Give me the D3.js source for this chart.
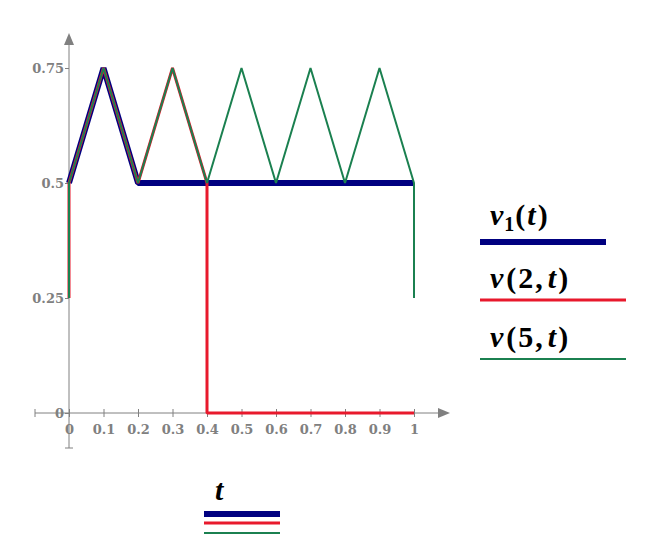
<!DOCTYPE html>
<html><head><meta charset="utf-8">
<script src="https://cdn.jsdelivr.net/npm/d3@7"></script>
<style>body{margin:0;background:#fff}</style>
</head><body>
<script>
const xTicks = [0,0.1,0.2,0.3,0.4,0.5,0.6,0.7,0.8,0.9,1];
const yTicks = [0,0.25,0.5,0.75];
const v1T = [0,0.1,0.2,1];
const v1V = [0.5,0.75,0.5,0.5];
const v2T = [0,0,0.1,0.2,0.3,0.4,0.4,1];
const v2V = [0.25,0.5,0.75,0.5,0.75,0.5,0,0];
const v5T = [0,0,0.1,0.2,0.3,0.4,0.5,0.6,0.7,0.8,0.9,1,1];
const v5V = [0.25,0.5,0.75,0.5,0.75,0.5,0.75,0.5,0.75,0.5,0.75,0.5,0.25];
const seriesNames = ["v1","v2","v5"];
const colors = ["#000080","#e8192c","#1b8050"];
const widths = [6,3,2];

const W=657,H=553;
const svg=d3.select("body").append("svg").attr("width",W).attr("height",H);
const x=d3.scaleLinear().domain([0,1]).range([69,414]);
const y=d3.scaleLinear().domain([0,0.75]).range([413,68]);
const grey="#808080";

// axes
const g=svg.append("g");
g.append("line").attr("x1",35).attr("x2",440).attr("y1",y(0)).attr("y2",y(0)).attr("stroke",grey).attr("stroke-width",1);
g.append("line").attr("x1",35).attr("x2",35).attr("y1",y(0)-4).attr("y2",y(0)+4).attr("stroke",grey);
g.append("path").attr("d",`M438,${y(0)-5}L450,${y(0)}L438,${y(0)+5}Z`).attr("fill",grey);
g.append("line").attr("x1",x(0)).attr("x2",x(0)).attr("y1",448).attr("y2",42).attr("stroke",grey);
g.append("line").attr("x1",x(0)-4).attr("x2",x(0)+4).attr("y1",448).attr("y2",448).attr("stroke",grey);
g.append("path").attr("d",`M${x(0)-5},45L${x(0)},33L${x(0)+5},45Z`).attr("fill",grey);

const tickFont="'DejaVu Serif', serif";
const xa=svg.append("g").attr("transform",`translate(0,${y(0)})`)
 .call(d3.axisBottom(x).tickValues(xTicks).tickFormat(d=>d3.format("")(d)).tickSize(0));
xa.select(".domain").remove();
xa.selectAll(".tick").append("line").attr("y1",-4).attr("y2",4).attr("stroke",grey);
xa.selectAll("text").attr("dy",0).attr("y",21).attr("fill",grey)
 .style("font-family",tickFont).style("font-size","13px").style("font-weight","bold");

const ya=svg.append("g").attr("transform",`translate(${x(0)},0)`)
 .call(d3.axisLeft(y).tickValues(yTicks).tickFormat(d=>d3.format("")(d)).tickSize(0));
ya.select(".domain").remove();
ya.selectAll(".tick").append("line").attr("x1",-4).attr("x2",0).attr("stroke",grey);
ya.selectAll("text").attr("x",-5).attr("fill",grey)
 .style("font-family",tickFont).style("font-size","13px").style("font-weight","bold");

// series
const data=[[v1T,v1V],[v2T,v2V],[v5T,v5V]];
const line=d3.line().x(d=>x(d[0])).y(d=>y(d[1]));
data.forEach(([T,V],i)=>{
  svg.append("path").datum(T.map((t,j)=>[t,V[j]])).attr("d",line)
   .attr("fill","none").attr("stroke",colors[i]).attr("stroke-width",widths[i])
   .attr("stroke-linejoin","bevel");
});

// legend right
const mathFont="'Liberation Serif', 'DejaVu Serif', serif";
function mathLabel(gx,gy,parts){
  const t=svg.append("text").attr("x",gx).attr("y",gy).style("font-family",mathFont)
    .style("font-size","30px").style("font-weight","bold").attr("fill","#000");
  parts.forEach(p=>{
    const s=t.append("tspan").text(p.t);
    if(p.i) s.style("font-style","italic");
    if(p.sub) s.attr("dy",6).style("font-size","20px");
    if(p.up) s.attr("dy",-6);
    if(p.dx) s.attr("dx",p.dx);
  });
}
mathLabel(490,225,[{t:"v",i:1},{t:"1",sub:1,dx:1},{t:"(",up:1,dx:1},{t:"t",i:1,dx:2},{t:")",dx:2}]);
mathLabel(490,288,[{t:"v",i:1},{t:"(",dx:3},{t:"2",dx:2},{t:",",dx:2},{t:"t",i:1,dx:5},{t:")",dx:2}]);
mathLabel(490,347,[{t:"v",i:1},{t:"(",dx:3},{t:"5",dx:2},{t:",",dx:2},{t:"t",i:1,dx:5},{t:")",dx:2}]);
const legY=[242,300,359], legX2=[606,626,626];
legY.forEach((ly,i)=>svg.append("line").attr("x1",480).attr("x2",legX2[i]).attr("y1",ly).attr("y2",ly)
  .attr("stroke",colors[i]).attr("stroke-width",widths[i]));

// bottom x-label
mathLabel(215,500,[{t:"t",i:1}]);
[514,523,533].forEach((ly,i)=>svg.append("line").attr("x1",204).attr("x2",280).attr("y1",ly).attr("y2",ly)
  .attr("stroke",colors[i]).attr("stroke-width",widths[i]));
</script>
</body></html>
